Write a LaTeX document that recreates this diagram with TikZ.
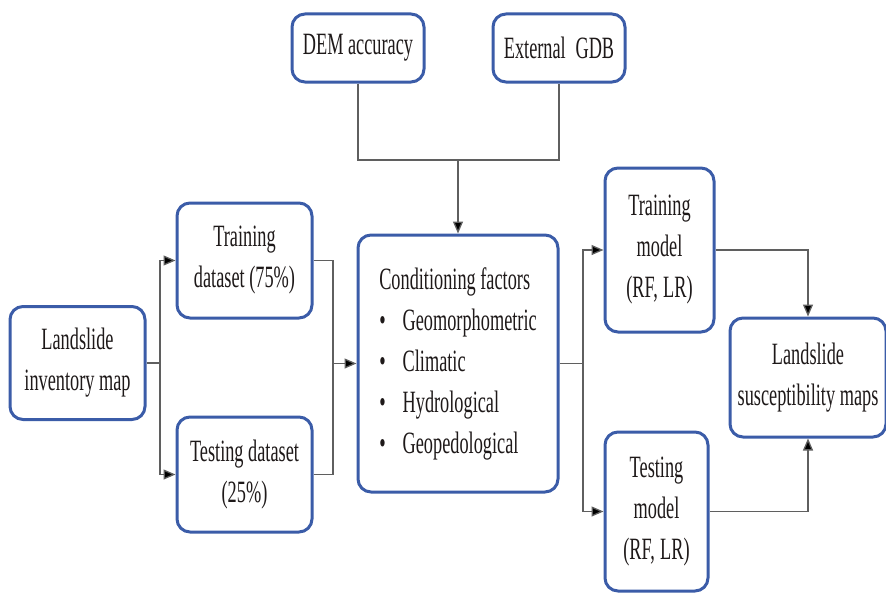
\documentclass[tikz,border=0pt]{standalone}
\usepackage{fontspec}
\setmainfont{Liberation Serif}[FakeStretch=0.59]
\usepackage{tikz}
\usetikzlibrary{arrows.meta}

\definecolor{boxblue}{RGB}{59,92,168}
\definecolor{linegray}{RGB}{95,95,95}
\definecolor{textdark}{RGB}{30,25,25}

\begin{document}
\begin{tikzpicture}[x=1pt,y=-1pt,
  blockbox/.style={draw=boxblue,line width=3pt,rounded corners=13pt,fill=white,
    text=textdark,align=center,inner sep=2pt,
    font=\fontsize{31}{41}\selectfont},
  link/.style={draw=linegray,line width=1.3pt},
  linkarrow/.style={link,-{Triangle[length=12pt,width=10pt,fill=black]}}]
\useasboundingbox (0,0) rectangle (886,594);
\node[blockbox,minimum width=132pt,minimum height=68pt] (dem) at (358,48) {DEM accuracy};
\node[blockbox,minimum width=132pt,minimum height=68pt] (gdb) at (559,48) {External\, GDB};
\node[blockbox,minimum width=200pt,minimum height=257pt,align=left] (cond) at (458,363.5)
  {Conditioning factors\\
   \textbullet\hspace{17pt}Geomorphometric\\
   \textbullet\hspace{17pt}Climatic\\
   \textbullet\hspace{17pt}Hydrological\\
   \textbullet\hspace{17pt}Geopedological};
\node[blockbox,minimum width=135pt,minimum height=113pt] (inv) at (77.5,363) {Landslide\\inventory map};
\node[blockbox,minimum width=135pt,minimum height=115pt] (trd) at (244.5,260.5) {Training\\dataset (75\%)};
\node[blockbox,minimum width=135pt,minimum height=115pt] (ted) at (244.5,474.5) {Testing dataset\\(25\%)};
\node[blockbox,minimum width=109pt,minimum height=164pt] (trm) at (659.5,250) {Training\\model\\(RF,\,LR)};
\node[blockbox,minimum width=103pt,minimum height=159pt] (tem) at (656.5,511.5) {Testing\\model\\(RF,\,LR)};
\node[blockbox,minimum width=156pt,minimum height=119pt] (maps) at (808,377.5) {Landslide\\susceptibility maps};

\coordinate (s1) at (160,363);
\coordinate (m1) at (333,363.5);
\coordinate (m2) at (458,160);
\coordinate (s2) at (583,363.5);

\draw[link] (dem.south) |- (m2) -| (gdb.south);
\draw[linkarrow] (m2) -- (cond.north);
\draw[link] (inv.east) -- (s1);
\draw[linkarrow] (s1) |- (trd.west);
\draw[linkarrow] (s1) |- (ted.west);
\draw[link] (trd.east) -| (m1);
\draw[link] (ted.east) -| (m1);
\draw[linkarrow] (m1) -- (cond.west);
\draw[link] (cond.east) -- (s2);
\draw[linkarrow] (s2) |- (trm.west);
\draw[linkarrow] (s2) |- (tem.west);
\draw[linkarrow] (trm.east) -| (maps.north);
\draw[linkarrow] (tem.east) -| (maps.south);
\end{tikzpicture}
\end{document}
